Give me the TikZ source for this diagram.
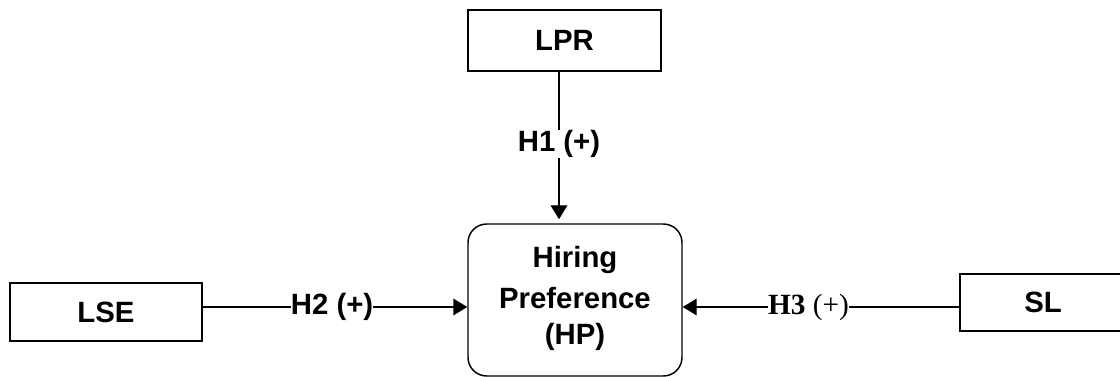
\documentclass[tikz,border=0pt]{standalone}
\usepackage{fontspec}
\setmainfont{Liberation Sans}
\newfontfamily\timesfont{Liberation Serif}
\usetikzlibrary{arrows.meta}
\tikzset{
  px/.style={x=0.75pt,y=-0.75pt},
  varbox/.style={draw,line width=1.1pt,rectangle,inner sep=0pt,font=\fontsize{22}{28.9}\selectfont\bfseries},
  hpbox/.style={draw,line width=1.1pt,rectangle,rounded corners=14pt,inner sep=0pt},
  hptext/.style={font=\fontsize{22}{28.9}\selectfont\bfseries},
  conn/.style={line width=1.1pt,-{Triangle[length=10.5pt,width=12.5pt]}},
  hlab/.style={fill=white,inner sep=0pt,font=\fontsize{22}{25}\selectfont\bfseries},
  hlabserif/.style={fill=white,inner sep=0pt,font=\fontsize{22}{25}\selectfont\timesfont}
}
\begin{document}
\begin{tikzpicture}[px]
\useasboundingbox (0,0) rectangle (1120,377);
\clip (0,0) rectangle (1120,377);
\node[varbox,minimum width=193*0.75pt,minimum height=61*0.75pt] (LPR) at (564.5,40.5) {LPR};
\node[varbox,minimum width=192*0.75pt,minimum height=58*0.75pt] (LSE) at (106,312) {LSE};
\node[varbox,minimum width=166*0.75pt,minimum height=57*0.75pt] (SL) at (1043,302.5) {SL};
\node[hpbox,minimum width=214*0.75pt,minimum height=152*0.75pt] (HP) at (575,300) {};
\node[hptext] (t1) at (575,260) {Hiring};
\node[hptext] (t2) at (575,298.5) {Preference};
\node[hptext] (t3) at (575,337) {(HP)};
\coordinate (col) at (559,0);
\coordinate (row) at (0,307);
\draw[conn] (col |- LPR.south) -- node[hlab,pos=0.49] (h1) {H1 (+)} ([yshift=3pt]col |- HP.north);
\draw[conn] (LSE.east |- row) -- node[hlab,pos=0.489] (h2) {H2 (+)} (HP.west |- row);
\draw[conn] (SL.west |- row) -- node[hlabserif,pos=0.545] (h3) {\textbf{H3} (+)} (HP.east |- row);
\end{tikzpicture}
\end{document}
